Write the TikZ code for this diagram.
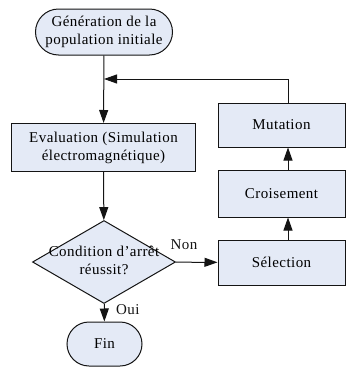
\documentclass[tikz,border=0pt]{standalone}
\usepackage{fontspec}
\setmainfont{Liberation Serif}[LetterSpace=3]
\usetikzlibrary{shapes.geometric,shapes.misc,arrows.meta}
\definecolor{FondBloc}{RGB}{228,234,246}
\definecolor{TraitBloc}{RGB}{20,20,20}

\begin{document}
\begin{tikzpicture}[x=1pt,y=-1pt,every node/.style={font=\rmfamily\fontsize{15}{18}\selectfont},
bloc/.style={draw=TraitBloc,fill=FondBloc,line width=1pt,rectangle,inner sep=0pt,align=center},
terminal/.style={bloc,rounded rectangle},
test/.style={bloc,diamond,minimum width=143pt,minimum height=83pt},
fleche/.style={TraitBloc,line width=1pt,-{Triangle[length=13pt,width=9pt]}}]
\useasboundingbox(0,0)rectangle(347,367);
% colonne de gauche
\node[terminal,minimum width=137pt,minimum height=46pt](debut)at(104,32){Génération de la\\population initiale};
\node[bloc,minimum width=184pt,minimum height=48pt](eval)at(103.5,147.5){Evaluation (Simulation\\électromagnétique)};
\node[test](cond)at(104,262){\makebox[0pt]{\begin{tabular}{@{}c@{}}Condition d’arrêt\\réussit?\end{tabular}}};
\node[terminal,minimum width=75pt,minimum height=44pt](fin)at(104.5,344){Fin};
% colonne de droite
\node[bloc,minimum width=127pt,minimum height=45pt](sel)at(281.5,262.5){Sélection};
\node[bloc,minimum width=127pt,minimum height=47pt](crois)at(281.5,193.5){Croisement};
\node[bloc,minimum width=127pt,minimum height=44pt](mut)at(281.5,125){Mutation};
\coordinate(retour)at(104,79);
% liaisons
\draw[fleche](debut)--(eval);
\draw[fleche](eval)--(cond);
\draw[fleche](cond)--(fin)node[pos=.3,right=8pt](oui){Oui};
\draw[fleche](cond)--(sel)node[pos=.2,above=9pt](non){Non};
\draw[fleche]([xshift=6.5pt]sel.north)--([xshift=6.5pt]crois.south);
\draw[fleche]([xshift=6.5pt]crois.north)--([xshift=6.5pt]mut.south);
\draw[fleche]([xshift=6.5pt]mut.north)|-(retour);
\end{tikzpicture}
\end{document}
